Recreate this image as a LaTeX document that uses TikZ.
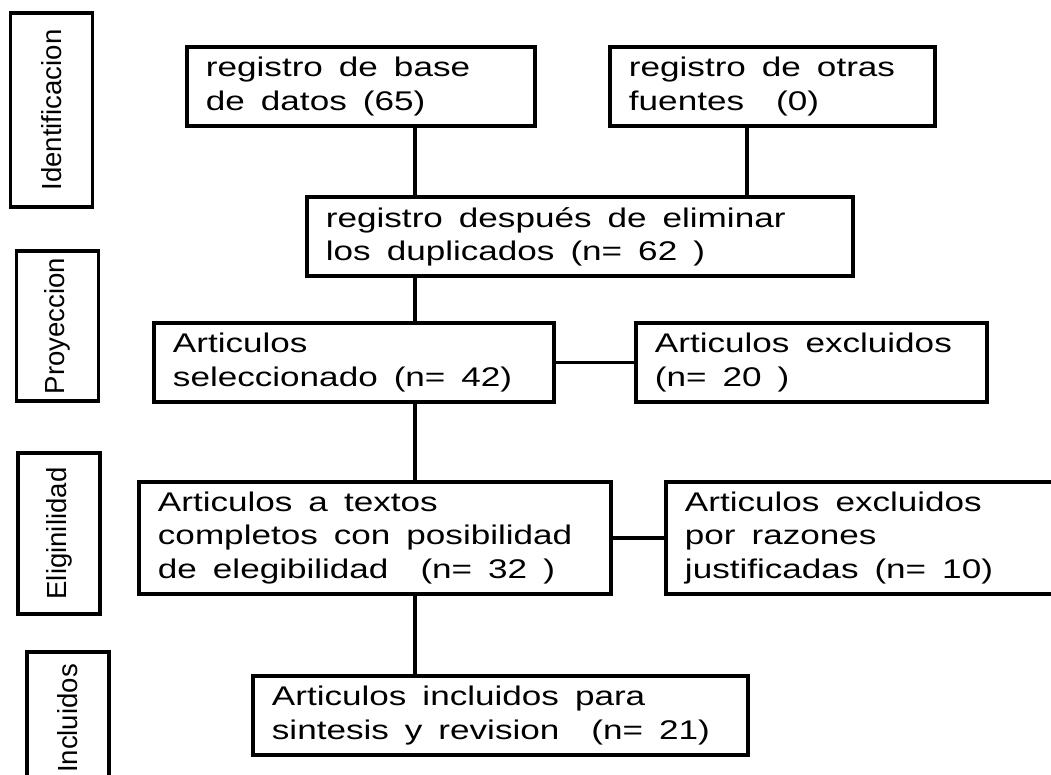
\documentclass[tikz,border=0pt]{standalone}
\usepackage{fontspec}
\setmainfont{Liberation Sans}[FakeStretch=1.3]
\newfontfamily\stagefont{Liberation Sans}
\usepackage{tikz}
\usetikzlibrary{positioning, calc}

\begin{document}
\begin{tikzpicture}[x=0.025cm, y=-0.025cm]
                % Styles
                \tikzstyle{stage}=[draw, line width=2.4pt, rotate=90, inner sep=0pt, minimum height=2.05cm, font=\stagefont\fontsize{19.6pt}{22pt}\selectfont]
                \tikzstyle{record}=[draw, line width=2.4pt, inner xsep=0.475cm, align=left, minimum height=1.975cm, font=\fontsize{19.2pt}{23.5pt}\selectfont, execute at begin node={\spaceskip=0.4cm\relax}]
                \tikzstyle{link}=[line width=2.6pt]

                \useasboundingbox (0,0) rectangle (1051,775);
                \clip (0,0) rectangle (1051,775);

                % Stages
                \node[stage, minimum width=4.85cm] (ident) at (51.5,110) {Identificacion};
                \node[stage, minimum width=3.75cm] (proy) at (57.5,326) {Proyeccion};
                \node[stage, minimum width=4.025cm] (elig) at (59,533.5) {Eliginilidad};
                \node[stage, minimum width=3.325cm] (incl) at (68,718.5) {Incluidos};

                % Identificacion
                \node[record, text width=7.75cm] (db) at (361,86.5) {registro de base\\de datos (65)};
                \node[record, text width=7.175cm] (otras) at (772.5,86.5) {registro de otras\\fuentes\ \ (0)};
                \node[record, text width=12.7cm] (dup) at (580,236.5) {registro después de eliminar\\los duplicados (n= 62 )};

                % Proyeccion
                \node[record, text width=9.05cm] (sel) at (354,362.5) {Articulos\\seleccionado (n= 42)};
                \node[record, text width=7.825cm] (exc1) at (811.5,362.5) {Articulos excluidos\\(n= 20 )};

                % Eliginilidad
                \node[record, text width=10.85cm, minimum height=2.8cm] (full) at (375,538) {Articulos a textos\\completos con posibilidad\\de elegibilidad\ \ (n= 32 )};
                \node[record, text width=9.275cm, minimum height=2.8cm] (exc2) at (870.5,538) {Articulos excluidos\\por razones\\justificadas (n= 10)};

                % Incluidos
                \node[record, text width=11.425cm] (inc) at (500.5,715.5) {Articulos incluidos para\\sintesis y revision\ \ (n= 21)};

                % Lines
                \coordinate (spine) at (415,0);
                \coordinate (branch) at (747,0);
                \draw[link] (db.south -| spine) -- (dup.north -| spine);
                \draw[link] (otras.south -| branch) -- (dup.north -| branch);
                \draw[link] (dup.south -| spine) -- (sel.north -| spine);
                \draw[link] (sel.east) -- (exc1.west);
                \draw[link] (sel.south -| spine) -- (full.north -| spine);
                \draw[link] (full.east) -- (exc2.west);
                \draw[link] (full.south -| spine) -- (inc.north -| spine);
            \end{tikzpicture}
\end{document}
